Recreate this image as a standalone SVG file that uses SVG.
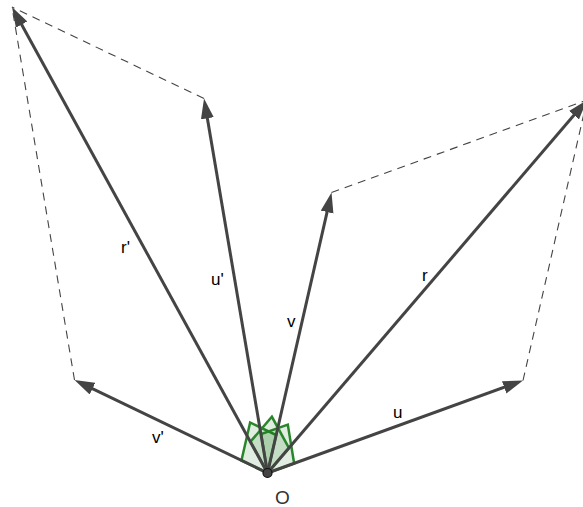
<svg xmlns="http://www.w3.org/2000/svg" width="583" height="507" viewBox="0 0 583 507">
<style>
.vec{stroke:#444;stroke-width:3;fill:none;marker-end:url(#ah)}
.dash{stroke:#444;stroke-width:1.1;stroke-dasharray:8,6;fill:none}
.ang{stroke:#2a862a;stroke-width:2.5;fill:rgba(0,110,0,0.12);stroke-linejoin:miter}
.lbl{font-family:"Liberation Sans",Arial,sans-serif;font-size:17px;fill:#000}
</style>
<defs>
<marker id="ah" markerUnits="userSpaceOnUse" markerWidth="22" markerHeight="14" refX="10" refY="6.5" orient="auto">
<path d="M0,0 L20,6.5 L0,13 Z" fill="#444"/>
</marker>
</defs>
<rect width="583" height="507" fill="#fff"/>
<g id="angles">
<polygon class="ang" points="267.5,473 241.45,460.44 250.13,422.49 276.18,435.05"/>
<polygon class="ang" points="267.5,473 294.16,463.52 287.8,424.6 261.14,434.08"/>
<polygon class="ang" points="267.5,473 288.98,448.1 271.91,416.78 250.43,441.68"/>
</g>
<g id="connectors">
<line class="dash" x1="523" y1="380.5" x2="587" y2="100"/>
<line class="dash" x1="331.5" y1="192.5" x2="587" y2="100"/>
<line class="dash" x1="204" y1="98.5" x2="12" y2="7"/>
<line class="dash" x1="74.5" y1="380" x2="12" y2="7"/>
<line id="u" class="vec" x1="267.5" y1="473" x2="513.6" y2="383.9"/>
<line id="v" class="vec" x1="267.5" y1="473" x2="329.3" y2="202.3"/>
<line id="r" class="vec" x1="267.5" y1="473" x2="580.5" y2="107.6"/>
<line id="u2" class="vec" x1="267.5" y1="473" x2="205.7" y2="108.4"/>
<line id="v2" class="vec" x1="267.5" y1="473" x2="83.5" y2="384.3"/>
<line id="r2" class="vec" x1="267.5" y1="473" x2="16.8" y2="15.8"/>
</g>
<g id="O">
<circle cx="267.5" cy="473" r="4.5" fill="#444" stroke="#111" stroke-width="1.2"/>
<text class="lbl" x="275" y="504" style="font-size:19px;fill:#333">O</text>
</g>
<g id="labels">
<text class="lbl" x="121" y="253">r'</text>
<text class="lbl" x="211" y="285">u'</text>
<text class="lbl" x="287" y="327">v</text>
<text class="lbl" x="422" y="281">r</text>
<text class="lbl" x="393" y="418">u</text>
<text class="lbl" x="152" y="443">v'</text>
</g>
</svg>
